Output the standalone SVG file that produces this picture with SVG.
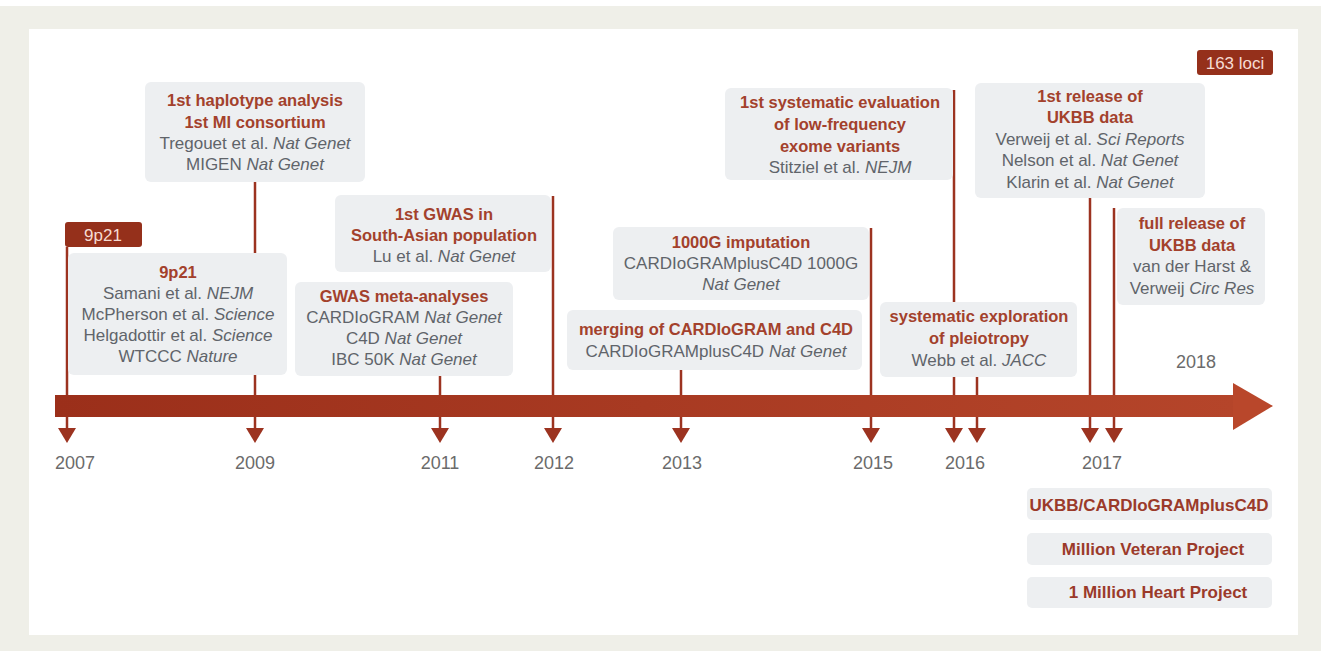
<svg xmlns="http://www.w3.org/2000/svg" width="1321" height="651" viewBox="0 0 1321 651">
<defs>
<style>
text{font-family:"Liberation Sans",Arial,sans-serif;text-anchor:middle}
.t{fill:#a3412c;font-size:16.5px;font-weight:bold}
.g{fill:#60646a;font-size:17px}
.i{font-style:italic}
.yr{fill:#6b6b6b;font-size:18px}
.box{fill:#edeff1}
.tag{fill:#95301b}
.tagt{fill:#f6dcd3;font-size:17px}
.ln{stroke:#9c3320;stroke-width:2.5;fill:none}
.bt{fill:#9b3a2a;font-size:17px;font-weight:bold}
</style>
<linearGradient id="barg" x1="0" y1="0" x2="1" y2="0">
<stop offset="0" stop-color="#9b2f1a"/>
<stop offset="1" stop-color="#b5452a"/>
</linearGradient>
<polygon id="tri" points="-9,0 9,0 0,15" fill="#9c3320"/>
</defs>
<rect x="0" y="0" width="1321" height="651" fill="#ffffff"/>
<rect x="0" y="6" width="1321" height="645" fill="#efefe8"/>
<rect x="29" y="29" width="1269" height="606" fill="#ffffff"/>

<g id="connectors">
<line class="ln" x1="67" y1="247" x2="67" y2="429"/>
<line class="ln" x1="255" y1="182" x2="255" y2="429"/>
<line class="ln" x1="440" y1="376" x2="440" y2="429"/>
<line class="ln" x1="553" y1="196" x2="553" y2="429"/>
<line class="ln" x1="681" y1="370" x2="681" y2="429"/>
<line class="ln" x1="871" y1="228" x2="871" y2="429"/>
<line class="ln" x1="954" y1="90" x2="954" y2="429"/>
<line class="ln" x1="977" y1="377" x2="977" y2="429"/>
<line class="ln" x1="1090" y1="198" x2="1090" y2="429"/>
<line class="ln" x1="1114" y1="208" x2="1114" y2="429"/>
<use href="#tri" x="67" y="428"/>
<use href="#tri" x="255" y="428"/>
<use href="#tri" x="440" y="428"/>
<use href="#tri" x="553" y="428"/>
<use href="#tri" x="681" y="428"/>
<use href="#tri" x="871" y="428"/>
<use href="#tri" x="954" y="428"/>
<use href="#tri" x="977" y="428"/>
<use href="#tri" x="1090" y="428"/>
<use href="#tri" x="1114" y="428"/>
</g>

<g id="timeline">
<rect x="55" y="395" width="1180" height="22" fill="url(#barg)"/>
<polygon points="1233,383 1273,406 1233,430" fill="#b9472b"/>
<text class="yr" x="75" y="469">2007</text>
<text class="yr" x="255" y="469">2009</text>
<text class="yr" x="440" y="469">2011</text>
<text class="yr" x="554" y="469">2012</text>
<text class="yr" x="682" y="469">2013</text>
<text class="yr" x="873" y="469">2015</text>
<text class="yr" x="965" y="469">2016</text>
<text class="yr" x="1102" y="469">2017</text>
<text class="yr" x="1196" y="368">2018</text>
</g>

<g id="tag-9p21">
<rect class="tag" x="65" y="222" width="77" height="25" rx="3"/>
<text class="tagt" x="103" y="241">9p21</text>
</g>

<g id="tag-163">
<rect class="tag" x="1197" y="50" width="76" height="25" rx="3"/>
<text class="tagt" x="1235" y="69">163 loci</text>
</g>

<g id="haplotype">
<rect class="box" x="145" y="82" width="220" height="100" rx="6"/>
<text class="t" x="255" y="106">1st haplotype analysis</text>
<text class="t" x="255" y="128">1st MI consortium</text>
<text class="g" x="255" y="149">Tregouet et al. <tspan class="i">Nat Genet</tspan></text>
<text class="g" x="255" y="170">MIGEN <tspan class="i">Nat Genet</tspan></text>
</g>

<g id="box-9p21">
<rect class="box" x="68" y="253" width="219" height="122" rx="6"/>
<text class="t" x="178" y="278">9p21</text>
<text class="g" x="178" y="299">Samani et al. <tspan class="i">NEJM</tspan></text>
<text class="g" x="178" y="320">McPherson et al. <tspan class="i">Science</tspan></text>
<text class="g" x="178" y="341">Helgadottir et al. <tspan class="i">Science</tspan></text>
<text class="g" x="178" y="362">WTCCC <tspan class="i">Nature</tspan></text>
</g>

<g id="gwas-meta">
<rect class="box" x="295" y="282" width="218" height="94" rx="6"/>
<text class="t" x="404" y="302">GWAS meta-analyses</text>
<text class="g" x="404" y="323">CARDIoGRAM <tspan class="i">Nat Genet</tspan></text>
<text class="g" x="404" y="344">C4D <tspan class="i">Nat Genet</tspan></text>
<text class="g" x="404" y="365">IBC 50K <tspan class="i">Nat Genet</tspan></text>
</g>

<g id="south-asian">
<rect class="box" x="335" y="195" width="216" height="77" rx="6"/>
<text class="t" x="444" y="220">1st GWAS in</text>
<text class="t" x="444" y="241">South-Asian population</text>
<text class="g" x="444" y="262">Lu et al. <tspan class="i">Nat Genet</tspan></text>
</g>

<g id="imputation-1000g">
<rect class="box" x="613" y="227" width="256" height="73" rx="6"/>
<text class="t" x="741" y="248">1000G imputation</text>
<text class="g" x="741" y="269">CARDIoGRAMplusC4D 1000G</text>
<text class="g" x="741" y="290"><tspan class="i">Nat Genet</tspan></text>
</g>

<g id="merging">
<rect class="box" x="567" y="310" width="295" height="60" rx="6"/>
<text class="t" x="716" y="335">merging of CARDIoGRAM and C4D</text>
<text class="g" x="716" y="357">CARDIoGRAMplusC4D <tspan class="i">Nat Genet</tspan></text>
</g>

<g id="low-frequency">
<rect class="box" x="725" y="88" width="228" height="92" rx="6"/>
<text class="t" x="840" y="108">1st systematic evaluation</text>
<text class="t" x="840" y="130">of low-frequency</text>
<text class="t" x="840" y="152">exome variants</text>
<text class="g" x="840" y="173">Stitziel et al. <tspan class="i">NEJM</tspan></text>
</g>

<g id="pleiotropy">
<rect class="box" x="880" y="302" width="197" height="75" rx="6"/>
<text class="t" x="979" y="322">systematic exploration</text>
<text class="t" x="979" y="344">of pleiotropy</text>
<text class="g" x="979" y="366">Webb et al. <tspan class="i">JACC</tspan></text>
</g>

<g id="ukbb-first">
<rect class="box" x="975" y="83" width="230" height="115" rx="6"/>
<text class="t" x="1090" y="102">1st release of</text>
<text class="t" x="1090" y="123">UKBB data</text>
<text class="g" x="1090" y="145">Verweij et al. <tspan class="i">Sci Reports</tspan></text>
<text class="g" x="1090" y="166">Nelson et al. <tspan class="i">Nat Genet</tspan></text>
<text class="g" x="1090" y="188">Klarin et al. <tspan class="i">Nat Genet</tspan></text>
</g>

<g id="ukbb-full">
<rect class="box" x="1117" y="208" width="148" height="97" rx="6"/>
<text class="t" x="1192" y="229">full release of</text>
<text class="t" x="1192" y="251">UKBB data</text>
<text class="g" x="1192" y="272">van der Harst &amp;</text>
<text class="g" x="1192" y="294">Verweij <tspan class="i">Circ Res</tspan></text>
</g>

<g id="ukbb-cardiogram">
<rect class="box" x="1027" y="488" width="245" height="32" rx="5"/>
<text class="bt" x="1149" y="511">UKBB/CARDIoGRAMplusC4D</text>
</g>
<g id="million-veteran">
<rect class="box" x="1027" y="533" width="245" height="32" rx="5"/>
<text class="bt" x="1153" y="555">Million Veteran Project</text>
</g>
<g id="million-heart">
<rect class="box" x="1027" y="577" width="245" height="31" rx="5"/>
<text class="bt" x="1158" y="598">1 Million Heart Project</text>
</g>
</svg>
